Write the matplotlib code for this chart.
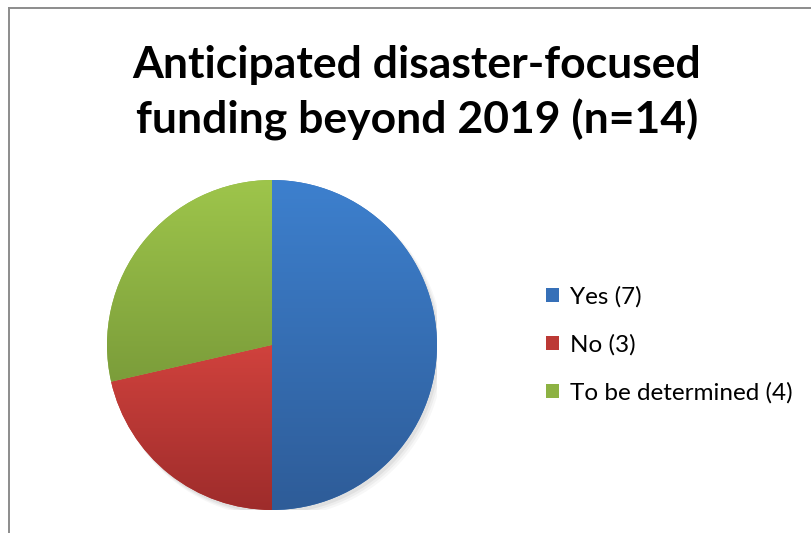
import numpy as np
import matplotlib
matplotlib.use("Agg")
import matplotlib.pyplot as plt
from matplotlib.colors import LinearSegmentedColormap
from matplotlib.lines import Line2D
from matplotlib.patches import Patch

categories = ["Yes (7)", "No (3)", "To be determined (4)"]
values = [7, 3, 4]
top_colors = ["#3D80CE", "#D0423D", "#9EC54B"]
bottom_colors = ["#2E5C98", "#9E2C2B", "#7B9D3A"]
mid_colors = ["#3670B8", "#BC3935", "#8DB243"]
title = "Anticipated disaster-focused\nfunding beyond 2019 (n=14)"

plt.rcParams['font.family'] = ['Lato', 'DejaVu Sans']

W, H = 812, 533
fig = plt.figure(figsize=(W / 100, H / 100), dpi=100)
fig.patch.set_facecolor("white")

cx, cy, r = 272, 345, 165
ax = fig.add_axes([(cx - r) / W, (H - cy - r) / H, 2 * r / W, 2 * r / H])

# soft shadow
for k, a in enumerate([0.05, 0.04, 0.03]):
    sh = plt.Circle((0.015 + 0.008 * k, -0.02 - 0.008 * k), 1.0 + 0.004 * k,
                    color="black", alpha=a, lw=0, zorder=0)
    ax.add_patch(sh)

wedges, _ = ax.pie(values, startangle=90, counterclock=False, colors=mid_colors,
                   radius=1.0, wedgeprops=dict(linewidth=0))

for w, tc, bc in zip(wedges, top_colors, bottom_colors):
    verts = w.get_patch_transform().transform(w.get_path().vertices)
    x0, x1 = verts[:, 0].min(), verts[:, 0].max()
    y0, y1 = verts[:, 1].min(), verts[:, 1].max()
    cmap = LinearSegmentedColormap.from_list("g", [bc, tc])
    grad = np.linspace(0, 1, 256).reshape(-1, 1)
    im = ax.imshow(grad, cmap=cmap, extent=[x0, x1, y0, y1], origin="lower",
                   aspect="auto", zorder=2, interpolation="bilinear")
    im.set_clip_path(w)

ax.set_xlim(-1, 1)
ax.set_ylim(-1, 1)
ax.set_aspect("equal")
ax.axis("off")

fig.text(417 / W, 1 - 93 / H, title, ha="center", va="center",
         fontsize=32, fontweight="bold", linespacing=1.4, color="black")

handles = [Patch(facecolor=c, edgecolor="none") for c in mid_colors]
fig.legend(handles, categories, loc="center left",
           bbox_to_anchor=(546 / W, 1 - 345 / H), frameon=False,
           fontsize=17.5, handlelength=0.52, handleheight=0.52, handletextpad=0.45,
           labelspacing=1.1, borderaxespad=0, borderpad=0)

# chart border (cropped at right and bottom)
fig.add_artist(Line2D([9.5 / W, 9.5 / W], [0, 1 - 8 / H], color="#8c8c8c", lw=1.4,
                      transform=fig.transFigure))
fig.add_artist(Line2D([9.5 / W, 1], [1 - 8 / H, 1 - 8 / H], color="#8c8c8c", lw=1.4,
                      transform=fig.transFigure))

fig.savefig("out.png", dpi=100)
